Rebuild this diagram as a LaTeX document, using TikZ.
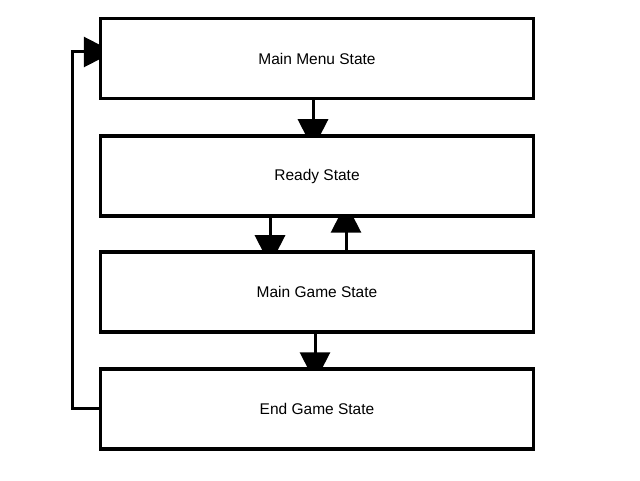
\documentclass[tikz,border=0pt]{standalone}
\usepackage{fontspec}
\setmainfont{Liberation Sans}
\usetikzlibrary{arrows.meta,backgrounds}
\begin{document}
\begin{tikzpicture}[x=1pt,y=1pt,
  statebox/.style={draw=black,fill=white,line width=3.5pt,minimum width=433pt,minimum height=80pt,inner sep=0pt,font=\fontsize{15.5}{18}\selectfont},
  arr/.style={line width=3pt,-{Triangle[width=30pt,length=30pt]}}]
\useasboundingbox (0,0) rectangle (640,480);
\node[statebox] (menu) at (317,421.5) {Main Menu State};
\node[statebox] (ready) at (317,304) {Ready State};
\node[statebox] (game) at (317,188) {Main Game State};
\node[statebox] (end) at (317,71) {End Game State};
\coordinate (lx) at (72,0);
\begin{scope}[on background layer]
\draw[arr] (menu.south -| 313,0) -- ([yshift=-15pt]ready.north -| 313,0);
\draw[arr] (ready.south -| 270,0) -- ([yshift=-15pt]game.north -| 270,0);
\draw[arr] (game.north -| 346,0) -- ([yshift=15pt]ready.south -| 346,0);
\draw[arr] (game.south -| 315,0) -- ([yshift=-15pt]end.north -| 315,0);
\draw[arr] ([yshift=1pt]end.west) -| (lx |- 0,428) -- ([xshift=15pt]menu.west |- 0,428);
\end{scope}
\end{tikzpicture}
\end{document}
